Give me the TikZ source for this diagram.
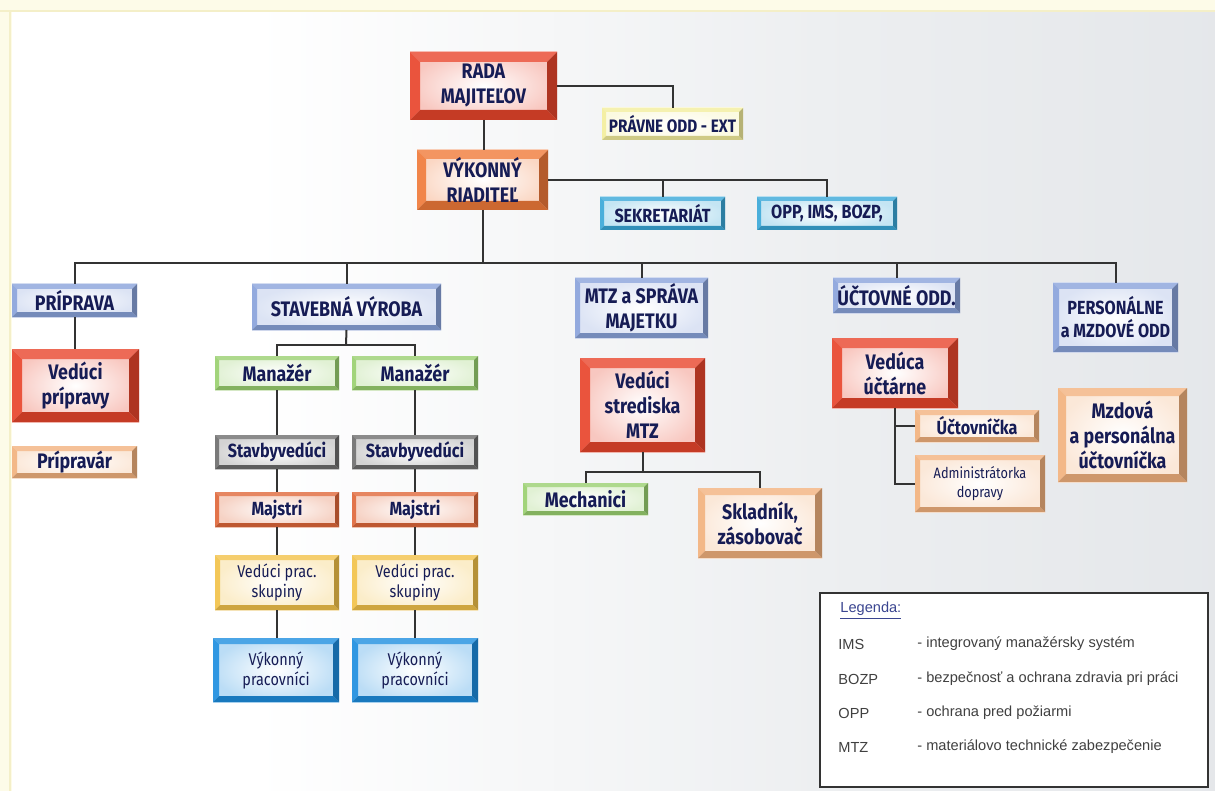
\documentclass[tikz,border=0pt]{standalone}
\usepackage{fontspec}
\setmainfont{Liberation Sans}
\newfontfamily\boxfont{Fira Sans}[FakeStretch=0.85]
\usetikzlibrary{calc}
\definecolor{navy}{HTML}{161C55}
\definecolor{cred}{HTML}{E8452C}
\definecolor{corg}{HTML}{F07A3A}
\definecolor{cyel}{HTML}{F3EE9C}
\definecolor{ccyan}{HTML}{3AA8D8}
\definecolor{clb}{HTML}{8AA3DB}
\definecolor{cgreen}{HTML}{9AD070}
\definecolor{cgray}{HTML}{6E6E6E}
\definecolor{cmaj}{HTML}{E0683A}
\definecolor{cyo}{HTML}{F2C24A}
\definecolor{cblue}{HTML}{1E8EE0}
\definecolor{cpeach}{HTML}{F2B27E}
\definecolor{bgY}{HTML}{FDFBE8}
\definecolor{bgYl}{HTML}{F4EFC8}
\definecolor{bgR}{HTML}{D9DCE1}
\definecolor{bgM}{HTML}{ECEEF0}
\definecolor{legblue}{HTML}{3A4590}
\pgfdeclarehorizontalshading{bgsh}{100bp}{color(0bp)=(white); color(35bp)=(white); color(60bp)=(bgM); color(100bp)=(bgR)}
\newcommand\bx[7]{\node[#2, minimum width={(#5-#3)*0.5pt}, minimum height={(#6-#4)*0.5pt}] (#1) at ({(#3+#5)/2},{(#4+#6)/2}) {#7};}
\tikzset{
  fcol/.store in=\fcol, fw/.store in=\fw,
  box/.style n args={2}{rectangle, inner sep=0pt, outer sep=0pt, align=center, text=navy,
    fcol=#1, fw=#2, inner color=white, outer color=#1!30,
    path picture={
      \coordinate (A) at (path picture bounding box.north west);
      \coordinate (B) at (path picture bounding box.north east);
      \coordinate (C) at (path picture bounding box.south east);
      \coordinate (D) at (path picture bounding box.south west);
      \fill[fill=\fcol!80] (A) -- (B) -- ([shift={(-\fw,-\fw)}]B) -- ([shift={(\fw,-\fw)}]A) -- cycle;
      \fill[fill=\fcol!92] (A) -- ([shift={(\fw,-\fw)}]A) -- ([shift={(\fw,\fw)}]D) -- (D) -- cycle;
      \fill[fill=\fcol!85!black] (D) -- ([shift={(\fw,\fw)}]D) -- ([shift={(-\fw,\fw)}]C) -- (C) -- cycle;
      \fill[fill=\fcol!75!black] (C) -- ([shift={(-\fw,\fw)}]C) -- ([shift={(-\fw,-\fw)}]B) -- (B) -- cycle;
    }},
  T/.style={font=\boxfont\bfseries\fontsize{10.5}{12.5}\selectfont},
  Tm/.style={font=\boxfont\bfseries\fontsize{9.5}{11.5}\selectfont},
  Tn/.style={font=\boxfont\bfseries\fontsize{9}{11}\selectfont},
  Ts/.style={font=\boxfont\bfseries\fontsize{9.5}{11}\selectfont},
  Tl/.style={font=\boxfont\fontsize{8.5}{10}\selectfont},
  Tx/.style={font=\boxfont\fontsize{7.5}{9.5}\selectfont},
  conn/.style={draw=black!80, line width=1pt},
  legtxt/.style={anchor=west, inner sep=0pt, font=\fontsize{7.3}{9}\selectfont, text=black!75},
}
\begin{document}
\begin{tikzpicture}[x=0.5pt,y=-0.5pt]
\useasboundingbox (0,0) rectangle (1215,791);
% background
\fill[bgY] (0,0) rectangle (1215,791);
\shade[shading=bgsh] (12,13) rectangle (1215,791);
\draw[bgYl, line width=0.8pt] (0,11) -- (1215,11);
\draw[bgYl, line width=0.8pt] (10,11) -- (10,791);

% boxes
\bx{rada}{box={cred}{5pt}, T}{410}{52}{557}{120}{RADA\\MAJITEĽOV}
\bx{prav}{box={cyel}{2pt}, Tn}{602}{108}{743}{140}{PRÁVNE ODD - EXT}
\bx{vyk}{box={corg}{4.5pt}, T}{417}{150}{548}{210}{VÝKONNÝ\\RIADITEĽ}
\bx{sek}{box={ccyan}{2pt}, Tm}{600}{197}{725}{230}{SEKRETARIÁT}
\bx{opp}{box={ccyan}{2pt}, Tm}{757}{197}{897}{230}{OPP, IMS, BOZP,}
\bx{prip}{box={clb}{2.5pt}, T}{12}{284}{137}{317}{PRÍPRAVA}
\bx{stav}{box={clb}{2.5pt}, T}{252}{284}{441}{330}{STAVEBNÁ VÝROBA}
\bx{mtz}{box={clb}{2.5pt}, T}{575}{278}{708}{338}{MTZ a SPRÁVA\\MAJETKU}
\bx{uct}{box={clb}{2.5pt}, T}{833}{278}{960}{313}{ÚČTOVNÉ ODD.}
\bx{pers}{box={clb}{3pt}, Tm}{1053}{283}{1178}{352}{PERSONÁLNE\\a MZDOVÉ ODD}
\bx{vp}{box={cred}{5pt}, T}{12}{349}{139}{422}{Vedúci\\prípravy}
\bx{pripr}{box={cpeach}{2.5pt}, T}{12}{446}{137}{478}{Prípravár}
\bx{man1}{box={cgreen}{2pt}, T}{215}{356}{339}{390}{Manažér}
\bx{man2}{box={cgreen}{2pt}, T}{352}{356}{478}{390}{Manažér}
\bx{stb1}{box={cgray}{2pt}, Ts}{215}{435}{339}{469}{Stavbyvedúci}
\bx{stb2}{box={cgray}{2pt}, Ts}{352}{435}{478}{469}{Stavbyvedúci}
\bx{maj1}{box={cmaj}{2pt}, Ts}{215}{492}{339}{527}{Majstri}
\bx{maj2}{box={cmaj}{2pt}, Ts}{352}{492}{478}{527}{Majstri}
\bx{vps1}{box={cyo}{2.5pt}, Tl}{215}{555}{339}{610}{Vedúci prac.\\skupiny}
\bx{vps2}{box={cyo}{2.5pt}, Tl}{352}{555}{478}{610}{Vedúci prac.\\skupiny}
\bx{vk1}{box={cblue}{3pt}, Tl}{213}{638}{339}{702}{Výkonný\\pracovníci}
\bx{vk2}{box={cblue}{3pt}, Tl}{352}{638}{478}{702}{Výkonný\\pracovníci}
\bx{vs}{box={cred}{5pt}, T}{580}{358}{705}{452}{Vedúci\\strediska\\MTZ}
\bx{mech}{box={cgreen}{2pt}, T}{523}{483}{648}{515}{Mechanici}
\bx{skl}{box={cpeach}{3.5pt}, T}{698}{488}{822}{558}{Skladník,\\zásobovač}
\bx{vu}{box={cred}{5pt}, T}{832}{338}{958}{408}{Vedúca\\účtárne}
\bx{uctk}{box={cpeach}{2.5pt}, Tm}{915}{410}{1039}{442}{Účtovníčka}
\bx{adm}{box={cpeach}{2.5pt}, Tx}{915}{455}{1045}{512}{Administrátorka\\dopravy}
\bx{mzd}{box={cpeach}{4pt}, T}{1058}{388}{1187}{482}{Mzdová\\a personálna\\účtovníčka}

% connectors
\coordinate (bus) at (483,263);
\coordinate (sb) at (346,345);
\coordinate (mb) at (643,472);
\draw[conn] (rada.east) -| (prav.north);
\draw[conn] (rada.south) -- (rada.south |- vyk.north);
\draw[conn] (vyk.east) -| (opp.north);
\draw[conn] (sek.north) -- (sek.north |- vyk.east);
\draw[conn] (vyk.south) -- (vyk.south |- bus);
\draw[conn] (prip.north) |- (bus) -| (pers.north);
\draw[conn] (stav.north) -- (stav.north |- bus);
\draw[conn] (mtz.north) -- (mtz.north |- bus);
\draw[conn] (uct.north) -- (uct.north |- bus);
\draw[conn] (prip.south) -- (prip.south |- vp.north);
\draw[conn] (stav.south) -- (sb);
\draw[conn] (man1.north) |- (sb) -| (man2.north);
\draw[conn] (man1.south) -- (man1.south |- stb1.north);
\draw[conn] (stb1.south) -- (stb1.south |- maj1.north);
\draw[conn] (maj1.south) -- (maj1.south |- vps1.north);
\draw[conn] (vps1.south) -- (vps1.south |- vk1.north);
\draw[conn] (man2.south) -- (man2.south |- stb2.north);
\draw[conn] (stb2.south) -- (stb2.south |- maj2.north);
\draw[conn] (maj2.south) -- (maj2.south |- vps2.north);
\draw[conn] (vps2.south) -- (vps2.south |- vk2.north);
\draw[conn] (vs.south) -- (vs.south |- mb);
\draw[conn] (mech.north) |- (mb) -| (skl.north);
\draw[conn] (vu.south) |- (adm.west);
\draw[conn] (uctk.west) -- (vu.south |- uctk.west);

% legend
\node[draw=black!80, line width=0.8pt, fill=white, minimum width={388*0.5pt}, minimum height={194*0.5pt}, inner sep=0pt] (leg) at (1014,690) {};
\node[legtxt, text=legblue] (lg0) at (840,611) {\underline{Legenda:}};
\node[legtxt] (lga1) at (838,644) {IMS};
\node[legtxt] (lgb1) at (917,644) {- integrovaný manažérsky systém};
\node[legtxt] (lga2) at (838,679) {BOZP};
\node[legtxt] (lgb2) at (917,679) {- bezpečnosť a ochrana zdravia pri práci};
\node[legtxt] (lga3) at (838,713) {OPP};
\node[legtxt] (lgb3) at (917,713) {- ochrana pred požiarmi};
\node[legtxt] (lga4) at (838,747) {MTZ};
\node[legtxt] (lgb4) at (917,747) {- materiálovo technické zabezpečenie};
\end{tikzpicture}
\end{document}
